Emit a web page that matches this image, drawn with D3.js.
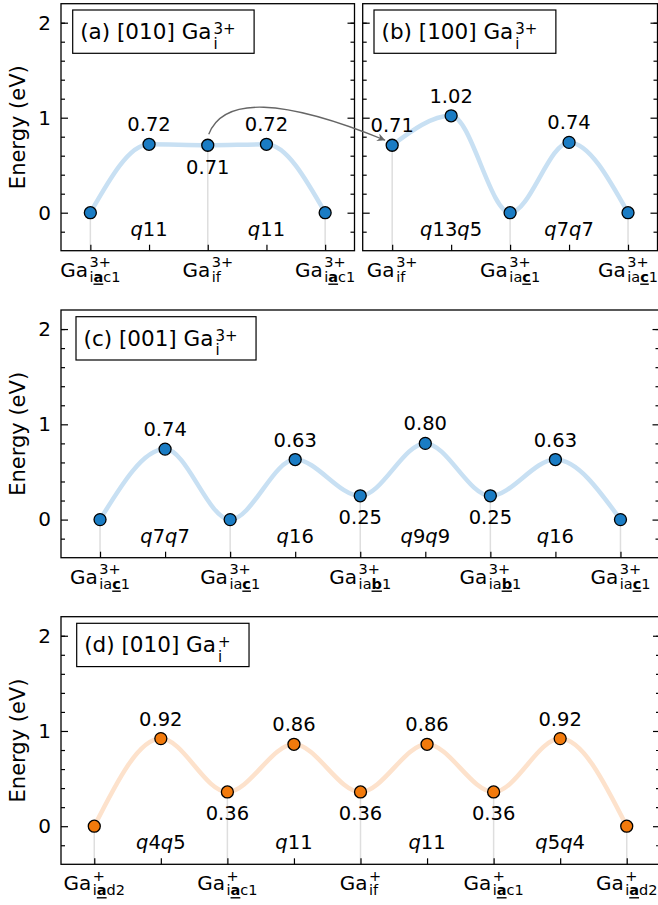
<!DOCTYPE html>
<html>
<head>
<meta charset="utf-8">
<script src="https://cdn.jsdelivr.net/npm/d3@7"></script>
<style>
  body { margin: 0; background: #fff; }
  svg { display: block; font-family: "DejaVu Sans", sans-serif; }
  text { fill: #000; }
</style>
</head>
<body>
<div id="chart"></div>
<script>
// energies along each path (eV)
const energyA = [0, 0.72, 0.71, 0.72, 0];
const energyB = [0.71, 1.02, 0, 0.74, 0];
const energyC = [0, 0.74, 0, 0.63, 0.25, 0.80, 0.25, 0.63, 0];
const energyD = [0, 0.92, 0.36, 0.86, 0.36, 0.86, 0.36, 0.92, 0];

// hop labels between stable sites
const hopsA = ["q11", "q11"];
const hopsB = ["q13q5", "q7q7"];
const hopsC = ["q7q7", "q16", "q9q9", "q16"];
const hopsD = ["q4q5", "q11", "q11", "q5q4"];

// site labels: [charge, subscript before, bold underlined letter, after]
const sitesA = [["3+", "i", "a", "c1"], ["3+", "if", "", ""], ["3+", "i", "a", "c1"]];
const sitesB = [["3+", "if", "", ""], ["3+", "ia", "c", "1"], ["3+", "ia", "c", "1"]];
const sitesC = [["3+", "ia", "c", "1"], ["3+", "ia", "c", "1"], ["3+", "ia", "b", "1"], ["3+", "ia", "b", "1"], ["3+", "ia", "c", "1"]];
const sitesD = [["+", "i", "a", "d2"], ["+", "i", "a", "c1"], ["+", "if", "", ""], ["+", "i", "a", "c1"], ["+", "i", "a", "d2"]];

const titles = [["(a) [010] Ga", "3+"], ["(b) [100] Ga", "3+"], ["(c) [001] Ga", "3+"], ["(d) [010] Ga", "+"]];

const yTicks = [0, 1, 2];
const yMinor = [-0.2, 0.2, 0.4, 0.6, 0.8, 1.2, 1.4, 1.6, 1.8, 2.0];

const W = 658, H = 905;
const svg = d3.select("#chart").append("svg").attr("width", W).attr("height", H);

const blue = { dot: "#1a7cc4", line: "#c8e0f3" };
const orange = { dot: "#f27a0c", line: "#fde2cc" };

const panels = [
  { e: energyA, hops: hopsA, sites: sitesA, title: titles[0], c: blue, box: [11.7, 6.3],
    l: 61, r: 354.5, t: 3.7, b: 250.7, xd: [-0.5, 4.5], ylab: true },
  { e: energyB, hops: hopsB, sites: sitesB, title: titles[1], c: blue, box: [11.3, 6.3],
    l: 362.7, r: 657.5, t: 3.7, b: 250.7, xd: [-0.5, 4.5], ylab: false },
  { e: energyC, hops: hopsC, sites: sitesC, title: titles[2], c: blue, box: [15, 6.7],
    l: 61, r: 659.5, t: 310, b: 557.7, xd: [-0.6, 8.6], ylab: true },
  { e: energyD, hops: hopsD, sites: sitesD, title: titles[3], c: orange, box: [15.7, 6.6],
    l: 61, r: 660, t: 616.7, b: 864.3, xd: [-0.5, 8.5], ylab: true }
];

function mathText(g, base, sup, sub, o) {
  const t = g.append("text").attr("font-size", o.size).text(base);
  const bw = t.node().getComputedTextLength();
  const sx = bw + o.gap;
  const st = g.append("text").attr("x", sx).attr("y", -o.up).attr("font-size", o.ss).text(sup);
  let end = sx + st.node().getComputedTextLength();
  let x = sx;
  sub.forEach((s, i) => {
    if (!s) return;
    const tt = g.append("text").attr("x", x).attr("y", o.down).attr("font-size", o.ss)
      .attr("font-weight", i === 1 ? "bold" : null).text(s);
    const len = tt.node().getComputedTextLength();
    if (i === 1) {
      g.append("line").attr("x1", x).attr("x2", x + len)
        .attr("y1", o.down + 2.5).attr("y2", o.down + 2.5)
        .attr("stroke", "#000").attr("stroke-width", 1.4);
    }
    x += len;
  });
  return Math.max(end, x);
}

function hopText(sel, s) {
  s.match(/q|\d+/g).forEach(p => {
    sel.append("tspan").attr("font-style", p === "q" ? "italic" : null).text(p);
  });
}

panels.forEach(p => {
  const x = d3.scaleLinear().domain(p.xd).range([p.l, p.r]);
  const y = d3.scaleLinear().domain([-0.4, 2.2]).range([p.b, p.t]);
  p.x = x; p.y = y;
  const g = svg.append("g");
  const idx = p.e.map((d, i) => i);

  // stems under the stable sites
  g.selectAll("line.stem").data(idx.filter(i => i % 2 === 0)).join("line")
    .attr("x1", i => x(i)).attr("x2", i => x(i))
    .attr("y1", i => y(p.e[i])).attr("y2", p.b)
    .attr("stroke", "#dedede").attr("stroke-width", 1.5);

  const line = d3.line().x((d, i) => x(i)).y(d => y(d)).curve(d3.curveMonotoneX);
  g.append("path").attr("d", line(p.e)).attr("fill", "none")
    .attr("stroke", p.c.line).attr("stroke-width", 4.5);

  g.selectAll("circle").data(p.e).join("circle")
    .attr("cx", (d, i) => x(i)).attr("cy", d => y(d)).attr("r", 6)
    .attr("fill", p.c.dot).attr("stroke", "#000").attr("stroke-width", 1.3);

  // value labels
  p.e.forEach((d, i) => {
    if (d === 0) return;
    const prev = p.e[i - 1], next = p.e[i + 1];
    const below = prev !== undefined && next !== undefined && d < prev && d < next;
    g.append("text").attr("x", x(i)).attr("y", y(d) + (below ? 28.5 : -13))
      .attr("text-anchor", "middle").attr("font-size", 19.5).text(d.toFixed(2));
  });

  // hop labels
  p.hops.forEach((h, k) => {
    const t = g.append("text").attr("x", x(2 * k + 1)).attr("y", y(0) + 23)
      .attr("text-anchor", "middle").attr("font-size", 19.5);
    hopText(t, h);
  });

  // axes
  g.append("g").attr("transform", `translate(${p.l},0)`)
    .call(d3.axisLeft(y).tickValues(yTicks).tickSize(-7).tickPadding(10)
      .tickFormat(p.ylab ? d3.format("d") : ""))
    .call(a => a.select(".domain").remove())
    .call(a => a.selectAll("text").attr("font-size", 20).attr("font-family", "DejaVu Sans").attr("fill", "#000"));
  g.append("g").attr("transform", `translate(${p.l},0)`)
    .call(d3.axisLeft(y).tickValues(yMinor).tickSize(-4).tickFormat(""))
    .call(a => a.select(".domain").remove());
  g.append("g").attr("transform", `translate(${p.r},0)`)
    .call(d3.axisRight(y).tickValues(yTicks).tickSize(-7).tickFormat(""))
    .call(a => a.select(".domain").remove());
  g.append("g").attr("transform", `translate(${p.r},0)`)
    .call(d3.axisRight(y).tickValues(yMinor).tickSize(-4).tickFormat(""))
    .call(a => a.select(".domain").remove());
  g.append("g").attr("transform", `translate(0,${p.b})`)
    .call(d3.axisBottom(x).tickValues(idx).tickSize(-6).tickFormat(""))
    .call(a => a.select(".domain").remove());
  g.selectAll(".tick line").attr("stroke", "#000").attr("stroke-width", 1.2);

  g.append("rect").attr("x", p.l).attr("y", p.t).attr("width", p.r - p.l).attr("height", p.b - p.t)
    .attr("fill", "none").attr("stroke", "#000").attr("stroke-width", 1.3);

  // site tick labels
  p.sites.forEach((s, k) => {
    const lg = g.append("g");
    const w = mathText(lg, "Ga", s[0], [s[1], s[2], s[3]], { size: 20, ss: 14.5, gap: 1.5, up: 9.5, down: 5 });
    lg.attr("transform", `translate(${x(2 * k) - w / 2},${p.b + 26})`);
  });

  if (p.ylab) {
    g.append("text").attr("transform", `translate(17.5,${(p.t + p.b) / 2}) rotate(-90)`)
      .attr("text-anchor", "middle").attr("dy", "0.35em").attr("font-size", 21).text("Energy (eV)");
  }

  // title box
  const bx = p.l + p.box[0], by = p.t + p.box[1];
  const bg = g.append("g");
  const rect = bg.append("rect").attr("fill", "#fff").attr("stroke", "#000").attr("stroke-width", 1.2);
  const tg = bg.append("g");
  const tw = mathText(tg, p.title[0], p.title[1], ["i", "", ""], { size: 21.5, ss: 15, gap: 2, up: 5, down: 9.5 });
  rect.attr("x", bx).attr("y", by).attr("width", tw + 26).attr("height", 43.3);
  tg.attr("transform", `translate(${bx + 7.5},${by + 29})`);
});

// arrow from (a) Ga_if to (b) Ga_if
const pa = panels[0], pb = panels[1];
const sx = pa.x(2) + 1, sy = pa.y(energyA[2]) - 11;
const ex = pb.x(0) - 7, ey = pb.y(energyB[0]) - 5;
svg.append("defs").append("marker").attr("id", "ah").attr("viewBox", "0 0 10 10")
  .attr("refX", 10).attr("refY", 5).attr("markerWidth", 11).attr("markerHeight", 8)
  .attr("markerUnits", "userSpaceOnUse").attr("orient", "auto")
  .append("path").attr("d", "M0,0L10,5L0,10L3,5Z").attr("fill", "#666");
svg.append("path")
  .attr("d", `M${sx},${sy}Q${sx + 22},${sy - 57} ${ex},${ey}`)
  .attr("fill", "none").attr("stroke", "#666").attr("stroke-width", 1.3)
  .attr("marker-end", "url(#ah)");
</script>
</body>
</html>
